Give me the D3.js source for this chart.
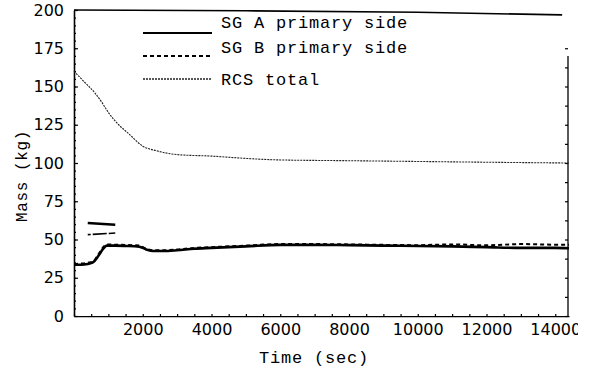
<!DOCTYPE html>
<html>
<head>
<meta charset="utf-8">
<script src="https://cdn.jsdelivr.net/npm/d3@7"></script>
<style>
  body{margin:0;background:#fff;}
  svg{display:block;}
</style>
</head>
<body>
<svg width="590" height="374"></svg>
<script>
// --- data ---
let sgTime=[0,200,400,550,700,850,950,1200,1500,1900,2100,2300,2600,3000,3500,4000,5000,6000,7000,8000,9000,10000,11000,12000,13000,14000,14400];
let sgA=[33.5,33.5,34,35,39,44,46,46,45.8,45.3,43.5,42.5,42.5,43,44,44.5,45.5,46.5,46.5,46.3,46,45.8,45.5,45,44.5,44.5,44.3];
let sgB=[34,34.3,34.8,35.5,40,45,46.8,46.6,46.4,46,44,43,43,43.5,44.5,45,46,47,47,46.8,46.5,46.3,46.8,46.2,47,46.6,46.5];
let rcsTime=[0,300,600,800,1000,1300,1600,2000,2400,3000,4000,5000,6000,8000,10000,12000,14400];
let rcsTotal=[160,153,146,140,133,125,119,111,108,105.5,104.5,103,102,101.5,101,100.5,100];
let topTime=[0,5000,10000,14200];
let topLine=[200,199.5,198.5,196.8];
let markUpper=[[400,60.8],[1200,59.6]];
let markLower=[[400,53.2],[1200,54.2]];
let xTicks=[2000,4000,6000,8000,10000,12000,14000];
let yTicks=[0,25,50,75,100,125,150,175,200];
let legendNames=['SG A primary side','SG B primary side','RCS total'];

let padLeft=74, padRight=569, padTop=10, padBottom=316;
const svg=d3.select('svg');

let xScale=d3.scaleLinear().domain([0,14400]).range([padLeft,padRight]);
let yScale=d3.scaleLinear().domain([0,200]).range([padBottom,padTop]);

let tickFont='"DejaVu Sans", sans-serif';
let monoFont='"Liberation Mono", "DejaVu Sans Mono", monospace';

// clip for the cut-off 14000 label at the right edge
svg.append('clipPath').attr('id','edge')
  .append('rect').attr('x',0).attr('y',0).attr('width',578).attr('height',374);

// axes
let yAxis=d3.axisLeft(yScale).tickValues(yTicks).tickSizeInner(-4).tickSizeOuter(0).tickPadding(10)
  .tickFormat(d3.format('d'));
let yMinor=d3.axisLeft(yScale).tickValues(d3.range(0,201,5)).tickSize(-2).tickFormat('');
let xAxis=d3.axisBottom(xScale).tickValues(xTicks).tickSizeInner(-4).tickSizeOuter(0).tickPadding(8)
  .tickFormat(d3.format('d'));
let xMinor=d3.axisBottom(xScale).tickValues(d3.range(0,14401,500)).tickSize(-2).tickFormat('');
let rAxis=d3.axisRight(yScale).tickValues(d3.range(0,176,12.5)).tickSize(-3).tickFormat('');

svg.append('g').attr('transform','translate('+padLeft+',0)').call(yMinor)
  .call(g=>g.select('.domain').remove());
svg.append('g').attr('transform','translate(0,'+padBottom+')').call(xMinor)
  .call(g=>g.select('.domain').remove());

let gy=svg.append('g').attr('id','y-axis').attr('transform','translate('+padLeft+',0)').call(yAxis);
let gx=svg.append('g').attr('id','x-axis').attr('transform','translate(0,'+padBottom+')').call(xAxis);
let gr=svg.append('g').attr('transform','translate('+(padRight-1)+',0)').call(rAxis);
gr.select('.domain').remove();
svg.append('line').attr('x1',padRight-1).attr('x2',padRight-1)
  .attr('y1',yScale(170)).attr('y2',padBottom).attr('stroke','#000').attr('stroke-width',1.3);

svg.selectAll('.domain').attr('stroke','#000').attr('stroke-width',1.6);
svg.selectAll('.tick line').attr('stroke','#000').attr('stroke-width',1.2);
gy.selectAll('text').attr('font-family',tickFont).attr('font-size',16).attr('fill','#000');
gx.selectAll('text').attr('font-family',tickFont).attr('font-size',16).attr('fill','#000');
gx.attr('clip-path','url(#edge)');

// lines
let lineSG=d3.line().x((d,i)=>xScale(sgTime[i])).y(d=>yScale(d)).curve(d3.curveMonotoneX);
let lineRCS=d3.line().x((d,i)=>xScale(rcsTime[i])).y(d=>yScale(d)).curve(d3.curveMonotoneX);
let lineTop=d3.line().x((d,i)=>xScale(topTime[i])).y(d=>yScale(d));
let linePts=d3.line().x(d=>xScale(d[0])).y(d=>yScale(d[1]));

svg.append('path').datum(topLine).attr('d',lineTop)
  .attr('fill','none').attr('stroke','#000').attr('stroke-width',1.6);

svg.append('path').datum(rcsTotal).attr('d',lineRCS)
  .attr('fill','none').attr('stroke','#222').attr('stroke-width',1.1).attr('stroke-dasharray','2,1');

svg.append('path').datum(sgA).attr('d',lineSG)
  .attr('fill','none').attr('stroke','#000').attr('stroke-width',2.6);
svg.append('path').datum(sgB).attr('d',lineSG)
  .attr('fill','none').attr('stroke','#000').attr('stroke-width',2).attr('stroke-dasharray','4,3');

svg.append('path').datum(markUpper).attr('d',linePts)
  .attr('fill','none').attr('stroke','#000').attr('stroke-width',2.6);
svg.append('path').datum(markLower).attr('d',linePts)
  .attr('fill','none').attr('stroke','#000').attr('stroke-width',1.6).attr('stroke-dasharray','3,2,14,2,24,0');

// legend
let legY=[33,56,79];
let textY=[28,53,85];
let legStyles=[{w:2.2,dash:null,c:'#000'},{w:1.8,dash:'4,3',c:'#000'},{w:1.3,dash:'2,1',c:'#222'}];
let leg=svg.append('g');
legendNames.forEach((name,i)=>{
  let l=leg.append('line').attr('x1',143).attr('x2',212).attr('y1',legY[i]).attr('y2',legY[i])
    .attr('stroke',legStyles[i].c).attr('stroke-width',legStyles[i].w);
  if(legStyles[i].dash) l.attr('stroke-dasharray',legStyles[i].dash);
  leg.append('text').attr('x',221).attr('y',textY[i]).text(name)
    .attr('font-family',monoFont).attr('font-size',17).attr('letter-spacing',0.8).attr('fill','#000');
});

// axis titles
svg.append('text').attr('x',314).attr('y',363).attr('text-anchor','middle')
  .attr('font-family',monoFont).attr('font-size',17).attr('letter-spacing',0.8).text('Time (sec)');
svg.append('text').attr('transform','translate(27,176) rotate(-90)').attr('text-anchor','middle')
  .attr('font-family',monoFont).attr('font-size',16).attr('letter-spacing',0.6).text('Mass (kg)');
</script>
</body>
</html>
